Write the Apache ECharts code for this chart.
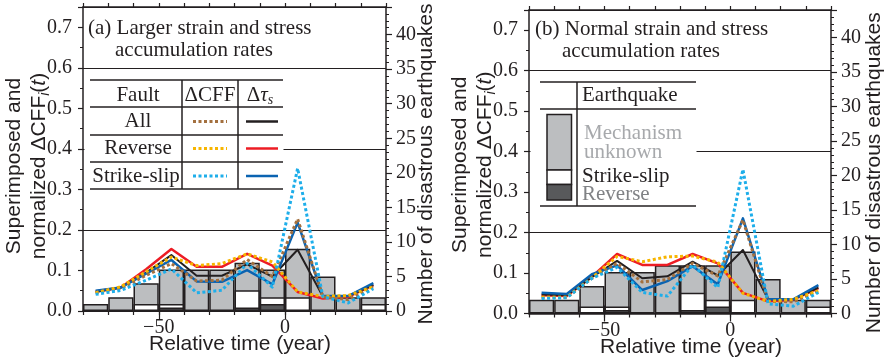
<!DOCTYPE html>
<html><head><meta charset="utf-8">
<script src="https://cdn.jsdelivr.net/npm/echarts@6/dist/echarts.min.js"></script>
<style>html,body{margin:0;padding:0;background:#fff}#c{width:886px;height:359px}</style>
</head><body><div id="c"></div>
<script>
// ---- data ----
const years = [-75,-65,-55,-45,-35,-25,-15,-5,5,15,25,35];
const majorYears = [-50, 0];

// panel (a) larger strain/stress accumulation rates
const aAllCFF = [0.045,0.056,0.088,0.117,0.074,0.076,0.127,0.085,0.227,0.035,0.028,0.060];
const aAllTau = [0.047,0.058,0.095,0.138,0.087,0.087,0.115,0.085,0.151,0.036,0.037,0.064];
const aRevCFF = [0.045,0.060,0.097,0.133,0.112,0.117,0.141,0.121,0.047,0.036,0.038,0.060];
const aRevTau = [0.048,0.058,0.103,0.153,0.109,0.109,0.141,0.112,0.047,0.031,0.035,0.064];
const aSSCFF  = [0.041,0.051,0.076,0.104,0.045,0.051,0.117,0.059,0.352,0.035,0.020,0.055];
const aSSTau  = [0.050,0.058,0.092,0.126,0.073,0.072,0.101,0.066,0.218,0.037,0.037,0.069];
const aEqRev  = [0,0,0,0.5,0,0,0.5,1,0,0,0,0];
const aEqSS   = [0,0,1,0.5,0,0,2.5,1,2,0,0,1];
const aEqUnk  = [1,2,3,5,6,6,4,4,7,5,2,1];

// panel (b) normal strain/stress accumulation rates
const bAllCFF = [0.040,0.040,0.087,0.124,0.078,0.084,0.124,0.093,0.231,0.030,0.029,0.056];
const bAllTau = [0.047,0.045,0.090,0.130,0.087,0.092,0.128,0.094,0.157,0.035,0.035,0.064];
const bRevCFF = [0.040,0.040,0.088,0.141,0.128,0.140,0.142,0.127,0.050,0.030,0.035,0.056];
const bRevTau = [0.045,0.043,0.091,0.147,0.120,0.120,0.147,0.124,0.051,0.030,0.034,0.063];
const bSSCFF  = [0.037,0.039,0.087,0.114,0.052,0.043,0.120,0.064,0.356,0.024,0.018,0.052];
const bSSTau  = [0.051,0.048,0.097,0.119,0.058,0.080,0.117,0.072,0.235,0.035,0.035,0.070];
const bEqRev  = [0,0,0,0.5,0,0,0.5,1,0,0,0,0];
const bEqSS   = [0,0,1,0.5,0,0,2.5,1,2,0,0,1];
const bEqUnk  = [2,2,3,5,6,7,4,5,7,5,2,1];

// ---- styling ----
const SERIF = 'Liberation Serif', SANS = 'Liberation Sans';
const INK = '#231f20';
const COL = {allCFF:'#a3703f', allTau:'#231f20', revCFF:'#f7b500', revTau:'#ed1c24',
             ssCFF:'#1eaeea', ssTau:'#0a63b1', unk:'#bcbec0', ss:'#ffffff', rev:'#58595b'};
const X_MIN = -80, X_MAX = 40, BIN = 10;

const panels = [
  {left:83, top:7, width:303, height:304, xPad:[0,0,0,11], yPad:[0,14,0,0], rGap:30, rPad:[0,10,0,0]},
  {left:529, top:10, width:302, height:303.5, xPad:[0,0,0,22], yPad:[0,6,0,0], rGap:33, rPad:[0,22,0,0]}
];

const grid = panels.map(p => ({left:p.left, top:p.top, width:p.width, height:p.height,
  containLabel:false, outerBoundsMode:'none'}));
const xAxis = [], yAxis = [], series = [];
const lineSt = {color:INK, width:1.5};

panels.forEach((p, g) => {
  const base = {type:'value', gridIndex:g, min:X_MIN, max:X_MAX, splitLine:{show:false}};
  xAxis.push(Object.assign({}, base, {position:'bottom', interval:BIN,
    axisLine:{show:true, onZero:false, lineStyle:lineSt},
    axisTick:{show:true, length:4, lineStyle:{color:INK, width:1.2}},
    axisLabel:{margin:7, fontFamily:SERIF, fontSize:20, color:INK,
      formatter: v => majorYears.indexOf(v) >= 0 ? String(v).replace('-', '\u2212') : ''},
    name:'Relative time (year)', nameLocation:'middle', nameGap:23, nameMoveOverlap:false,
    nameTextStyle:{fontFamily:SANS, fontSize:21, color:INK, padding:p.xPad}}));
  xAxis.push(Object.assign({}, base, {position:'top', interval:BIN,
    axisLine:{show:true, onZero:false, lineStyle:lineSt},
    axisTick:{show:true, length:4, lineStyle:{color:INK, width:1.2}},
    axisLabel:{show:false}}));
  for (const pos of ['bottom','top']) {
    xAxis.push(Object.assign({}, base, {position:pos, interval:BIN,
      axisLine:{show:false},
      axisTick:{show:true, length:8, customValues:majorYears, lineStyle:{color:INK, width:1.2}},
      axisLabel:{show:false}}));
  }
  yAxis.push({type:'value', gridIndex:g, position:'left', min:0, max:0.75, interval:0.1,
    axisLine:{show:true, onZero:false, lineStyle:lineSt},
    axisTick:{show:true, length:5, lineStyle:{color:INK, width:1.2}},
    minorTick:{show:true, splitNumber:2, length:3, lineStyle:{color:INK, width:1}},
    axisLabel:{formatter: v => v.toFixed(1), showMaxLabel:false, margin:11, fontFamily:SERIF, fontSize:20, color:INK},
    splitLine:{show:false},
    name:'{n|Superimposed and}\n{n|normalized \u0394CFF}{sub|i}{n|(}{it|t}{n|)}',
    nameLocation:'middle', nameGap:31, nameMoveOverlap:false,
    nameTextStyle:{fontFamily:SANS, fontSize:21, color:INK, padding:p.yPad,
      rich:{n:{fontFamily:SANS, fontSize:21, lineHeight:25, color:INK},
            it:{fontFamily:SANS, fontSize:21, lineHeight:25, fontStyle:'italic', color:INK},
            sub:{fontFamily:SANS, fontSize:14, lineHeight:8, verticalAlign:'bottom', fontStyle:'italic', color:INK}}}});
  yAxis.push({type:'value', gridIndex:g, position:'right', min:0, max:44, interval:5,
    axisLine:{show:true, onZero:false, lineStyle:lineSt},
    axisTick:{show:true, length:6, lineStyle:{color:INK, width:1.2}},
    minorTick:{show:true, splitNumber:5, length:3, lineStyle:{color:INK, width:1}},
    axisLabel:{showMaxLabel:false, margin:10, fontFamily:SERIF, fontSize:20, color:INK},
    splitLine:{show:false},
    name:'Number of disastrous earthquakes', nameLocation:'middle', nameGap:p.rGap, nameMoveOverlap:false,
    nameTextStyle:{fontFamily:SANS, fontSize:21, color:INK, padding:p.rPad}});
  yAxis.push({type:'value', gridIndex:g, position:'left', min:0, max:0.75, interval:0.2,
    axisLine:{show:false}, axisTick:{show:false}, axisLabel:{show:false},
    splitLine:{show:true, lineStyle:{color:INK, width:1.2}}});
});

const D = [
  {all:[aAllCFF,aAllTau], rev:[aRevCFF,aRevTau], ss:[aSSCFF,aSSTau], eq:[aEqRev,aEqSS,aEqUnk]},
  {all:[bAllCFF,bAllTau], rev:[bRevCFF,bRevTau], ss:[bSSCFF,bSSTau], eq:[bEqRev,bEqSS,bEqUnk]}
];

D.forEach((d, g) => {
  const xi = g*4, yL = g*3, yR = g*3+1;
  const binPx = panels[g].width * BIN / (X_MAX - X_MIN);
  const [rev, ss, unk] = d.eq;
  // cumulative heights (reverse at bottom, strike-slip, then mechanism unknown on top)
  const cumRev = rev.slice();
  const cumSS = rev.map((v,i) => v + ss[i]);
  const cumAll = rev.map((v,i) => v + ss[i] + unk[i]);
  [[cumAll, COL.unk], [cumSS, COL.ss], [cumRev, COL.rev]].forEach(([arr, color]) => {
    series.push({type:'bar', xAxisIndex:xi, yAxisIndex:yR, barWidth:binPx, barGap:'-100%',
      data: years.map((x,i) => [x, arr[i] > 0 ? arr[i] : '-']),
      itemStyle:{color, borderColor:INK, borderWidth:1.5}, silent:true, z:2});
  });
  const ln = (arr, color, dotted, w) => ({type:'line', xAxisIndex:xi, yAxisIndex:yL,
    data: years.map((x,i) => [x, arr[i]]), symbol:'none', showSymbol:false, silent:true, z:3,
    lineStyle:{color, width:w, type: dotted ? [3,2.5] : 'solid', cap:'butt', join:'round'}});
  series.push(ln(d.rev[1], COL.revTau, false, 2.5));
  series.push(ln(d.all[1], COL.allTau, false, 2));
  series.push(ln(d.ss[1], COL.ssTau, false, 2.5));
  series.push(ln(d.all[0], COL.allCFF, true, 3));
  series.push(ln(d.rev[0], COL.revCFF, true, 3));
  series.push(ln(d.ss[0], COL.ssCFF, true, 3));
});

// ---- annotation graphics (titles + legend tables) ----
const serif21 = '21px "Liberation Serif"';
const T = (x, y, text, opts) => Object.assign({type:'text', x, y, z:60, silent:true,
  style:Object.assign({text, font:serif21, fill:INK, textAlign:'left', textVerticalAlign:'middle'}, opts||{})});
const L = (x1,y1,x2,y2,w) => ({type:'line', z:58, silent:true, shape:{x1,y1,x2,y2}, style:{stroke:INK, lineWidth:w||1.5}});
const G = [];
G.push(T(88, 28, '(a) Larger strain and stress'));
G.push(T(115, 50, 'accumulation rates'));
G.push(T(535, 29, '(b) Normal strain and stress'));
G.push(T(562, 51, 'accumulation rates'));

G.push({type:'rect', z:55, silent:true, shape:{x:84.5, y:76, width:199, height:116}, style:{fill:'#fff'}});
[80,107,135,162,189].forEach(y => G.push(L(90, y, 283, y)));
G.push(L(182, 80, 182, 189));
G.push(L(238, 80, 238, 189));
G.push(T(138, 95, 'Fault', {textAlign:'center'}));
G.push(T(210, 95, '\u0394CFF', {textAlign:'center'}));
G.push(T(260, 95, '{d|\u0394}{t|\u03c4}{s|s}', {textAlign:'center',
  rich:{d:{fontFamily:SERIF, fontSize:21, lineHeight:24}, t:{fontFamily:SERIF, fontSize:21, fontStyle:'italic', lineHeight:24},
        s:{fontFamily:SERIF, fontSize:14, fontStyle:'italic', lineHeight:8, verticalAlign:'bottom'}}}));
const rows = [['All', COL.allCFF, COL.allTau, 121.5], ['Reverse', COL.revCFF, COL.revTau, 148.5], ['Strike-slip', COL.ssCFF, COL.ssTau, 176]];
rows.forEach(r => {
  G.push(T(r[0]==='Strike-slip' ? 136 : 138, r[3], r[0], {textAlign:'center'}));
  G.push({type:'line', z:60, silent:true, shape:{x1:193, y1:r[3], x2:227, y2:r[3]},
    style:{stroke:r[1], lineWidth:3, lineDash:[3,2.5]}});
  G.push({type:'line', z:60, silent:true, shape:{x1:246, y1:r[3], x2:278, y2:r[3]},
    style:{stroke:r[2], lineWidth:2.5}});
});

G.push({type:'rect', z:55, silent:true, shape:{x:530.5, y:78, width:166, height:132}, style:{fill:'#fff'}});
[82,109,206].forEach(y => G.push(L(540, y, 696, y)));
G.push(L(577, 82, 577, 206));
G.push({type:'rect', z:60, silent:true, shape:{x:547, y:114.5, width:24.5, height:55.5}, style:{fill:COL.unk, stroke:INK, lineWidth:1.5}});
G.push({type:'rect', z:60, silent:true, shape:{x:547, y:170, width:24.5, height:14.5}, style:{fill:COL.ss, stroke:INK, lineWidth:1.5}});
G.push({type:'rect', z:60, silent:true, shape:{x:547, y:184.5, width:24.5, height:15.5}, style:{fill:COL.rev, stroke:INK, lineWidth:1.5}});
G.push(T(582, 95, 'Earthquake'));
G.push(T(584, 133, 'Mechanism', {fill:'#a7a9ac'}));
G.push(T(584, 152, 'unknown', {fill:'#a7a9ac'}));
G.push(T(582, 176, 'Strike-slip'));
G.push(T(582, 194, 'Reverse', {fill:'#808285'}));

const chart = echarts.init(document.getElementById('c'), null, {renderer:'canvas'});
chart.setOption({animation:false, backgroundColor:'#fff', grid, xAxis, yAxis, series, graphic:G});
</script></body></html>
